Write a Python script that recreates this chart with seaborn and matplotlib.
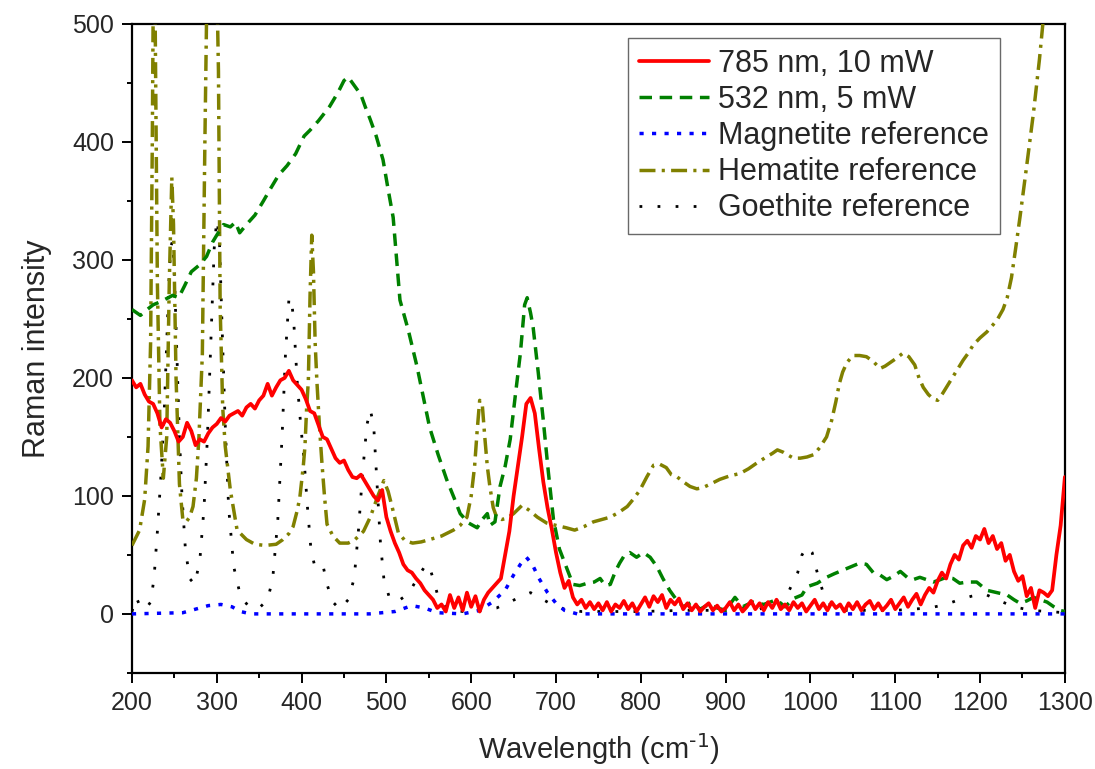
import numpy as np
import pandas as pd
import seaborn as sns
import matplotlib.pyplot as plt
from matplotlib.ticker import MultipleLocator

# 785 nm spectrum, sampled every 5 cm-1 from 200 to 1300
red_y = [198, 192, 195, 186, 180, 178, 170, 158, 165, 162,
         155, 146, 150, 162, 155, 143, 148, 146, 153, 158,
         161, 166, 163, 168, 170, 172, 168, 175, 178, 174,
         181, 185, 195, 185, 192, 198, 200, 206, 198, 194,
         190, 182, 172, 170, 160, 150, 148, 140, 132, 128,
         130, 122, 116, 115, 118, 112, 106, 100, 96, 105,
         82, 70, 60, 52, 42, 37, 35, 30, 26, 20,
         16, 12, 5, 8, 2, 16, 5, 14, 3, 18,
         6, 15, 2, 12, 18, 22, 26, 30, 50, 70,
         100, 125, 150, 178, 183, 170, 140, 112, 90, 72,
         52, 35, 22, 28, 14, 8, 12, 5, 10, 4,
         9, 3, 10, 2, 8, 5, 11, 4, 9, 2,
         8, 14, 6, 15, 10, 16, 5, 12, 8, 13,
         4, 9, 3, 8, 2, 6, 9, 3, 7, 2,
         5, 10, 3, 8, 2, 6, 11, 4, 9, 3,
         10, 5, 12, 4, 8, 3, 10, 5, 9, 2,
         7, 12, 4, 9, 3, 10, 5, 8, 2, 9,
         4, 10, 3, 8, 11, 4, 9, 3, 7, 12,
         4, 9, 14, 6, 12, 17, 8, 16, 22, 18,
         28, 35, 30, 42, 50, 46, 58, 62, 56, 66,
         63, 72, 60, 66, 55, 60, 45, 50, 36, 28,
         32, 15, 22, 5, 20, 18, 15, 20, 50, 75,
         116]
red_x = np.arange(200, 1301, 5)

green_x = [200, 210, 218, 225, 235, 248, 255, 262, 270, 280, 288, 295, 300, 308, 316, 322, 327, 335,
           345, 355, 363, 373, 383, 393, 403, 410, 420, 433, 443, 450, 455, 460, 465, 470, 475, 481,
           488, 496, 502, 508, 516, 526, 536, 551, 561, 571, 580, 587, 597, 607, 613, 619, 622, 628,
           634, 640, 646, 652, 658, 663, 666, 670, 673, 679, 685, 691, 697, 704, 712, 720, 728, 737,
           745, 752, 758, 764, 770, 775, 781, 787, 795, 803, 811, 819, 826, 834, 842, 850, 860, 870,
           880, 890, 900, 911, 920, 932, 945, 960, 970, 980, 990, 996, 1008, 1019, 1028, 1038, 1048,
           1058, 1066, 1074, 1082, 1090, 1098, 1106, 1114, 1121, 1129, 1137, 1145, 1153, 1160, 1168,
           1176, 1185, 1196, 1208, 1220, 1232, 1240, 1247, 1255, 1263, 1271, 1279, 1287, 1294, 1300]
green_y = [258, 253, 258, 262, 265, 270, 268, 278, 290, 296, 303, 315, 321, 330, 328, 332, 323, 330,
           338, 350, 360, 372, 380, 390, 405, 410, 418, 430, 442, 452, 455, 450, 445, 440, 430, 419,
           405, 385, 360, 336, 266, 240, 210, 158, 135, 114, 98, 85, 77, 73, 80, 85, 75, 78,
           108, 125, 148, 185, 221, 262, 268, 255, 243, 205, 164, 120, 80, 55, 40, 25, 24, 26,
           27, 30, 24, 25, 36, 43, 50, 52, 48, 52, 48, 40, 30, 20, 12, 6, 10, 4,
           8, 5, 3, 14, 6, 10, 8, 12, 6, 13, 16, 23, 26, 31, 34, 37, 40,
           43, 42, 35, 33, 29, 32, 36, 31, 29, 31, 29, 27, 29, 31, 30,
           26, 27, 27, 20, 18, 16, 12, 9, 11, 14, 12, 10, 6, 3, 2]

magnetite_x = [200, 260, 275, 290, 305, 318, 328, 340, 480, 510, 530, 545, 560, 590, 610, 625,
               640, 650, 658, 665, 672, 680, 690, 700, 710, 725, 1300]
magnetite_y = [0, 1, 4, 7, 8, 6, 2, 0, 0, 2, 7, 5, 1, 0, 3, 10,
               20, 33, 42, 48, 42, 30, 18, 9, 3, 0, 0]

hematite_x = [200, 209, 215, 219, 222, 224, 226, 228, 230, 233, 237, 241, 244, 247, 249, 252, 256,
              260, 264, 268, 272, 276, 279, 283, 286, 289, 293, 297, 300, 302, 304, 307, 310, 316,
              324, 335, 345, 357, 370, 378, 385, 390, 395, 398, 402, 404, 406, 408, 410, 412, 414,
              416, 418, 421, 424, 427, 430, 437, 445, 455, 463, 473, 481, 490, 497, 502, 507, 514,
              522, 531, 541, 551, 565, 579, 587, 595, 600, 604, 607, 610, 613, 616, 619, 622, 626,
              630, 636, 642, 650, 660, 668, 678, 689, 700, 712, 722, 733, 744, 754, 764, 774, 784,
              792, 799, 807, 815, 822, 830, 836, 843, 850, 858, 866, 873, 882, 893, 905, 917, 927,
              937, 948, 955, 961, 968, 975, 980, 988, 996, 1004, 1011, 1019, 1025, 1030, 1034, 1038,
              1043, 1050, 1058, 1066, 1074, 1082, 1088, 1094, 1102, 1109, 1116, 1123, 1128, 1133,
              1139, 1145, 1150, 1156, 1162, 1168, 1174, 1180, 1186, 1192, 1200, 1208, 1214, 1220,
              1227, 1232, 1237, 1242, 1247, 1255, 1263, 1270, 1274, 1280, 1290, 1300]
hematite_y = [58, 71, 97, 142, 230, 400, 620, 450, 280, 160, 115, 150, 280, 370, 330, 200, 110,
              80, 78, 82, 91, 115, 150, 220, 400, 560, 620, 600, 540, 460, 260, 175, 142, 105,
              71, 63, 59, 58, 59, 63, 68, 74, 88, 99, 125, 142, 175, 198, 270, 321, 290,
              230, 198, 160, 128, 100, 76, 66, 60, 60, 63, 70, 82, 100, 113, 104, 90, 69,
              62, 60, 61, 63, 66, 71, 75, 82, 100, 125, 155, 181, 178, 150, 125, 108, 90,
              82, 80, 81, 85, 92, 88, 82, 77, 75, 73, 71, 74, 78, 80, 82, 86, 91,
              98, 105, 116, 126, 127, 124, 118, 116, 112, 108, 106, 107, 110, 114, 117, 119, 123,
              128, 133, 136, 139, 137, 134, 132, 132, 133, 135, 141, 150, 164, 180, 195, 205,
              213, 219, 219, 218, 214, 208, 210, 213, 217, 221, 218, 211, 200, 192,
              186, 182, 181, 187, 194, 201, 208, 215, 221, 228, 234, 239, 244, 249,
              258, 268, 285, 310, 336, 380, 425, 470, 500, 540, 600, 650]

goethite_x = [200, 205, 210, 216, 222, 226, 230, 234, 238, 241, 244, 246, 248, 250, 253, 256, 259,
              263, 268, 274, 280, 285, 289, 293, 297, 300, 303, 306, 310, 314, 320, 328, 338, 350,
              360, 366, 372, 377, 381, 385, 388, 391, 395, 399, 403, 407, 411, 415, 420, 425, 430,
              437, 445, 455, 462, 467, 472, 477, 481, 485, 489, 493, 497, 503, 512, 522, 530, 538,
              545, 550, 555, 562, 572, 590, 610, 630, 645, 660, 670, 680, 695, 710, 730, 800, 850,
              900, 940, 960, 975, 985, 990, 996, 1002, 1008, 1015, 1025, 1040, 1100, 1140, 1160,
              1175, 1190, 1205, 1220, 1240, 1260, 1280, 1300]
goethite_y = [2, 14, 6, 4, 10, 30, 70, 115, 170, 230, 290, 312, 316, 290, 220, 150, 100,
              55, 30, 25, 45, 90, 150, 230, 310, 334, 320, 250, 160, 90, 40, 15, 6, 5,
              12, 30, 80, 150, 220, 266, 268, 245, 195, 160, 130, 90, 55, 42, 40, 42, 25,
              10, 4, 12, 30, 70, 120, 160, 173, 160, 110, 60, 30, 15, 10, 15, 22, 32,
              40, 42, 30, 12, 4, 2, 3, 5, 10, 15, 18, 14, 8, 4, 2, 2, 3,
              3, 4, 10, 20, 35, 50, 57, 52, 35, 18, 6, 3, 3, 5, 8,
              12, 15, 17, 12, 6, 3, 2, 1]

sns.set_theme(style="ticks")
plt.rcParams["font.family"] = ["Liberation Sans", "DejaVu Sans"]
plt.rcParams["mathtext.fontset"] = "custom"
plt.rcParams["mathtext.rm"] = "Liberation Sans Narrow"
plt.rcParams["mathtext.it"] = "Liberation Sans Narrow"

fig = plt.figure(figsize=(10.95, 7.69), dpi=100)
ax = fig.add_axes([0.1205, 0.125, 0.852, 0.8438])

lw = 2.5
sns.lineplot(x=red_x, y=red_y, ax=ax, color="#ff0000", linewidth=2.7,
             label="785 nm, 10 mW", zorder=6)
sns.lineplot(x=green_x, y=green_y, ax=ax, color="#008000", linewidth=lw,
             linestyle=(0, (3.6, 2.2)), label="532 nm, 5 mW", zorder=4)
sns.lineplot(x=magnetite_x, y=magnetite_y, ax=ax, color="#0000ff", linewidth=lw,
             linestyle=(0, (1.2, 2.4)), label="Magnetite reference", zorder=5)
sns.lineplot(x=hematite_x, y=hematite_y, ax=ax, color="#808000", linewidth=lw,
             linestyle=(0, (4.6, 1.8, 0.9, 1.8)), label="Hematite reference", zorder=3)
sns.lineplot(x=goethite_x, y=goethite_y, ax=ax, color="black", linewidth=2.0,
             linestyle=(0, (1, 5.5)), label="Goethite reference", zorder=2)

ax.set_xlim(200, 1300)
ax.set_ylim(-50, 500)
ax.xaxis.set_major_locator(MultipleLocator(100))
ax.xaxis.set_minor_locator(MultipleLocator(50))
ax.yaxis.set_major_locator(MultipleLocator(100))
ax.yaxis.set_minor_locator(MultipleLocator(50))
ax.tick_params(which="major", direction="out", length=7, width=1.4, color="black", pad=6)
ax.tick_params(which="minor", direction="out", length=3.6, width=1.4, color="black")
ax.tick_params(axis="y", labelsize=18)
ax.tick_params(axis="x", labelsize=18)
for lbl in ax.get_xticklabels():
    lbl.set_family(["Liberation Sans Narrow", "Liberation Sans"])

for s in ax.spines.values():
    s.set_visible(True)
    s.set_linewidth(1.6)
    s.set_color("black")

ax.set_xlabel(r"Wavelength (cm$^{\text{-1}}$)", fontsize=21, labelpad=12,
              family=["Liberation Sans Narrow", "Liberation Sans"])
ax.set_ylabel("Raman intensity", fontsize=22, labelpad=14)

leg = ax.legend(loc="upper right", bbox_to_anchor=(0.930, 0.978), borderaxespad=0,
                fontsize=22, frameon=True, fancybox=False, shadow=False,
                handlelength=2.3, handletextpad=0.3, labelspacing=0.2, borderpad=0.35)
leg.get_frame().set_edgecolor("#444444")
leg.get_frame().set_linewidth(1.0)

fig.savefig("out.png", dpi=100, facecolor="white")
